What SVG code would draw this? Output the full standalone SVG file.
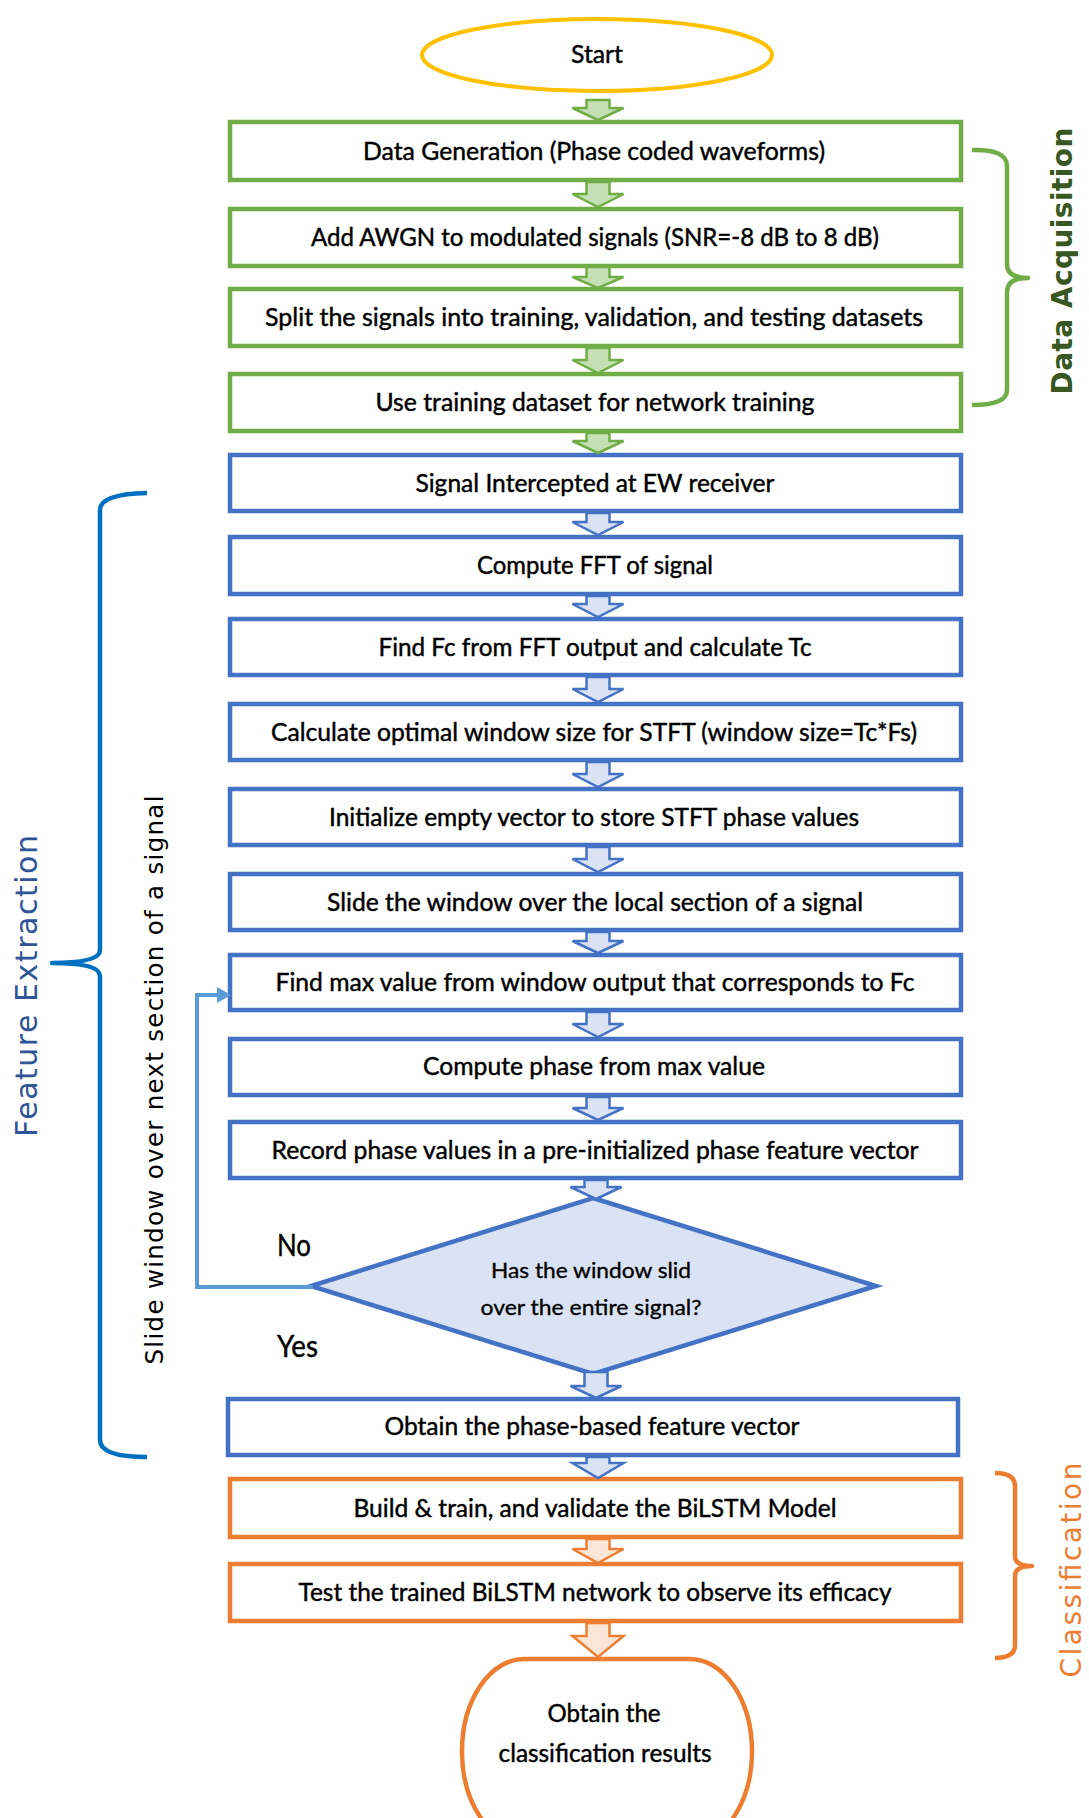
<svg xmlns="http://www.w3.org/2000/svg" width="1089" height="1818" viewBox="0 0 1089 1818">
  <style>
    .bg { fill: #ffffff; }
    .g-box { fill: #ffffff; stroke: #70AD47; stroke-width: 4.5; }
    .b-box { fill: #ffffff; stroke: #4472C4; stroke-width: 4.5; }
    .o-box { fill: #ffffff; stroke: #ED7D31; stroke-width: 4.5; }
    .dia { fill: #DAE3F3; stroke: #4472C4; stroke-width: 4.5; stroke-linejoin: miter; }
    .start { fill: #ffffff; stroke: #FFC000; stroke-width: 4; }
    .lbl { font-family: Lato, "Liberation Sans", sans-serif; font-size: 25px; fill: #000000; stroke: #000000; stroke-width: 0.45; text-anchor: middle; }
    .small { font-size: 21.5px; stroke-width: 0.35; }
    .yn { font-size: 30px; text-anchor: start; }
    .side { font-family: "DejaVu Sans", Verdana, sans-serif; text-anchor: middle; }
    .g-arr { fill: #C5E0B4; stroke: #70AD47; stroke-width: 2.5; stroke-linejoin: miter; }
    .b-arr { fill: #DAE3F3; stroke: #4472C4; stroke-width: 2.5; stroke-linejoin: miter; }
    .o-arr { fill: #FBE5D6; stroke: #ED7D31; stroke-width: 2.5; stroke-linejoin: miter; }
    .loop { fill: none; stroke: #5B9BD5; stroke-width: 4; }
    .brace { fill: none; stroke-width: 4.5; stroke-linecap: butt; stroke-linejoin: round; }
  </style>

  <rect class="bg" x="0" y="0" width="1089" height="1818"/>

  <!-- flow steps -->
  <g id="start">
    <ellipse class="start" cx="597" cy="55" rx="175" ry="36"/>
    <text class="lbl" x="597" y="63" textLength="52" lengthAdjust="spacingAndGlyphs">Start</text>
  </g>

  <g id="data-generation">
    <rect class="g-box" x="230" y="122" width="731" height="58"/>
    <text class="lbl" x="594" y="160" textLength="462" lengthAdjust="spacingAndGlyphs">Data Generation (Phase coded waveforms)</text>
  </g>
  <g id="add-awgn">
    <rect class="g-box" x="230" y="209" width="731" height="57"/>
    <text class="lbl" x="595" y="246" textLength="568" lengthAdjust="spacingAndGlyphs">Add AWGN to modulated signals (SNR=-8 dB to 8 dB)</text>
  </g>
  <g id="split">
    <rect class="g-box" x="230" y="289" width="731" height="57"/>
    <text class="lbl" x="594" y="326" textLength="658" lengthAdjust="spacingAndGlyphs">Split the signals into training, validation, and testing datasets</text>
  </g>
  <g id="use-training">
    <rect class="g-box" x="230" y="374" width="731" height="57"/>
    <text class="lbl" x="595" y="411" textLength="439" lengthAdjust="spacingAndGlyphs">Use training dataset for network training</text>
  </g>

  <g id="intercept">
    <rect class="b-box" x="230" y="455" width="731" height="56"/>
    <text class="lbl" x="595" y="492" textLength="359" lengthAdjust="spacingAndGlyphs">Signal Intercepted at EW receiver</text>
  </g>
  <g id="fft">
    <rect class="b-box" x="230" y="537" width="731" height="57"/>
    <text class="lbl" x="595" y="574" textLength="236" lengthAdjust="spacingAndGlyphs">Compute FFT of signal</text>
  </g>
  <g id="find-fc">
    <rect class="b-box" x="230" y="619" width="731" height="56"/>
    <text class="lbl" x="595" y="656" textLength="433" lengthAdjust="spacingAndGlyphs">Find Fc from FFT output and calculate Tc</text>
  </g>
  <g id="window-size">
    <rect class="b-box" x="230" y="704" width="731" height="56"/>
    <text class="lbl" x="594" y="741" textLength="646" lengthAdjust="spacingAndGlyphs">Calculate optimal window size for STFT (window size=Tc*Fs)</text>
  </g>
  <g id="init-vector">
    <rect class="b-box" x="230" y="789" width="731" height="56"/>
    <text class="lbl" x="594" y="826" textLength="530" lengthAdjust="spacingAndGlyphs">Initialize empty vector to store STFT phase values</text>
  </g>
  <g id="slide">
    <rect class="b-box" x="230" y="874" width="731" height="56"/>
    <text class="lbl" x="595" y="911" textLength="536" lengthAdjust="spacingAndGlyphs">Slide the window over the local section of a signal</text>
  </g>
  <g id="find-max">
    <rect class="b-box" x="230" y="955" width="731" height="55"/>
    <text class="lbl" x="595" y="991" textLength="639" lengthAdjust="spacingAndGlyphs">Find max value from window output that corresponds to Fc</text>
  </g>
  <g id="compute-phase">
    <rect class="b-box" x="230" y="1039" width="731" height="56"/>
    <text class="lbl" x="594" y="1075" textLength="342" lengthAdjust="spacingAndGlyphs">Compute phase from max value</text>
  </g>
  <g id="record-phase">
    <rect class="b-box" x="230" y="1122" width="731" height="56"/>
    <text class="lbl" x="595" y="1159" textLength="647" lengthAdjust="spacingAndGlyphs">Record phase values in a pre-initialized phase feature vector</text>
  </g>

  <g id="decision">
    <polygon class="dia" points="593,1198 876,1286 593,1374 311,1286"/>
    <text class="lbl small" x="591" y="1278" textLength="200" lengthAdjust="spacingAndGlyphs">Has the window slid</text>
    <text class="lbl small" x="591" y="1315" textLength="221" lengthAdjust="spacingAndGlyphs">over the entire signal?</text>
  </g>

  <g id="feature-vector">
    <rect class="b-box" x="228" y="1399" width="730" height="56"/>
    <text class="lbl" x="592" y="1435" textLength="415" lengthAdjust="spacingAndGlyphs">Obtain the phase-based feature vector</text>
  </g>

  <g id="build-train">
    <rect class="o-box" x="230" y="1479" width="731" height="58"/>
    <text class="lbl" x="595" y="1517" textLength="483" lengthAdjust="spacingAndGlyphs">Build &amp; train, and validate the BiLSTM Model</text>
  </g>
  <g id="test">
    <rect class="o-box" x="230" y="1564" width="731" height="57"/>
    <text class="lbl" x="595" y="1601" textLength="593" lengthAdjust="spacingAndGlyphs">Test the trained BiLSTM network to observe its efficacy</text>
  </g>
  <g id="results">
    <rect class="o-box" x="462" y="1659" width="290" height="185" rx="62" ry="95"/>
    <text class="lbl" x="604" y="1722" textLength="113" lengthAdjust="spacingAndGlyphs">Obtain the</text>
    <text class="lbl" x="605" y="1762" textLength="213" lengthAdjust="spacingAndGlyphs">classification results</text>
  </g>

  <!-- connectors -->
  <g id="connectors">
    <path class="g-arr" d="M586.5,100 H609.5 V108 H623.5 L598,120 L572.5,108 H586.5 Z"/>
    <path class="g-arr" d="M586.5,182 H609.5 V194 H623.5 L598,207 L572.5,194 H586.5 Z"/>
    <path class="g-arr" d="M586.5,267 H609.5 V277 H623.5 L598,288 L572.5,277 H586.5 Z"/>
    <path class="g-arr" d="M586.5,348 H609.5 V360 H623.5 L598,373 L572.5,360 H586.5 Z"/>
    <path class="g-arr" d="M586.5,433 H609.5 V441 H623.5 L598,453 L572.5,441 H586.5 Z"/>

    <path class="b-arr" d="M586.5,513 H609.5 V522 H623.5 L598,535 L572.5,522 H586.5 Z"/>
    <path class="b-arr" d="M586.5,596 H609.5 V604 H623.5 L598,617 L572.5,604 H586.5 Z"/>
    <path class="b-arr" d="M586.5,677 H609.5 V689 H623.5 L598,702 L572.5,689 H586.5 Z"/>
    <path class="b-arr" d="M586.5,762 H609.5 V774 H623.5 L598,787 L572.5,774 H586.5 Z"/>
    <path class="b-arr" d="M586.5,847 H609.5 V859 H623.5 L598,872 L572.5,859 H586.5 Z"/>
    <path class="b-arr" d="M586.5,932 H609.5 V941 H623.5 L598,953 L572.5,941 H586.5 Z"/>
    <path class="b-arr" d="M586.5,1012 H609.5 V1024 H623.5 L598,1037 L572.5,1024 H586.5 Z"/>
    <path class="b-arr" d="M586.5,1097 H609.5 V1108 H623.5 L598,1120 L572.5,1108 H586.5 Z"/>
    <path class="b-arr" d="M584.5,1180 H607.5 V1187 H621.5 L596,1199 L570.5,1187 H584.5 Z"/>
    <path class="b-arr" d="M584.5,1372 H607.5 V1386 H621.5 L596,1398 L570.5,1386 H584.5 Z"/>
    <path class="b-arr" d="M586.5,1457 H609.5 V1463 H623.5 L598,1478 L572.5,1463 H586.5 Z"/>

    <path class="o-arr" d="M586.5,1539 H609.5 V1549 H623.5 L598,1563 L572.5,1549 H586.5 Z"/>
    <path class="o-arr" d="M586.5,1623 H609.5 V1636 H623.5 L598,1657 L572.5,1636 H586.5 Z"/>

    <polyline class="loop" points="313,1287 197,1287 197,995 220,995"/>
    <polygon fill="#5B9BD5" points="217,987 231,995 217,1003"/>
  </g>

  <!-- branch labels -->
  <g id="branch-labels">
    <text class="lbl yn" x="277" y="1256" textLength="34" lengthAdjust="spacingAndGlyphs">No</text>
    <text class="lbl yn" x="277" y="1357" textLength="41" lengthAdjust="spacingAndGlyphs">Yes</text>
    <text class="side" transform="translate(163,1080) rotate(-90)" font-size="24.5" fill="#000000" textLength="569">Slide window over next section of a signal</text>
  </g>

  <!-- stage braces -->
  <g id="stage-data-acquisition">
    <path class="brace" stroke="#70AD47" d="M972,150 Q1007,149 1007,166 V264 Q1007,278 1028,278 Q1007,278 1007,292 V390 Q1007,405 972,405"/>
    <text class="side" transform="translate(1072,261) rotate(-90)" font-size="28" font-weight="bold" fill="#385723" textLength="267">Data Acquisition</text>
  </g>
  <g id="stage-feature-extraction">
    <path class="brace" stroke="#0070C0" stroke-width="5.5" d="M147,493 Q100,494 100,510 V950 Q100,963 52,963 Q100,963 100,976 V1440 Q100,1457 147,1457"/>
    <text class="side" transform="translate(37,986) rotate(-90)" font-size="30" fill="#2F5597" textLength="302">Feature Extraction</text>
  </g>
  <g id="stage-classification">
    <path class="brace" stroke="#ED7D31" d="M995,1473 Q1015,1473 1015,1486 V1556 Q1015,1566 1032,1566 Q1015,1566 1015,1576 V1645 Q1015,1658 995,1658"/>
    <text class="side" transform="translate(1081,1570) rotate(-90)" font-size="28" fill="#ED7D31" textLength="215">Classification</text>
  </g>
</svg>
